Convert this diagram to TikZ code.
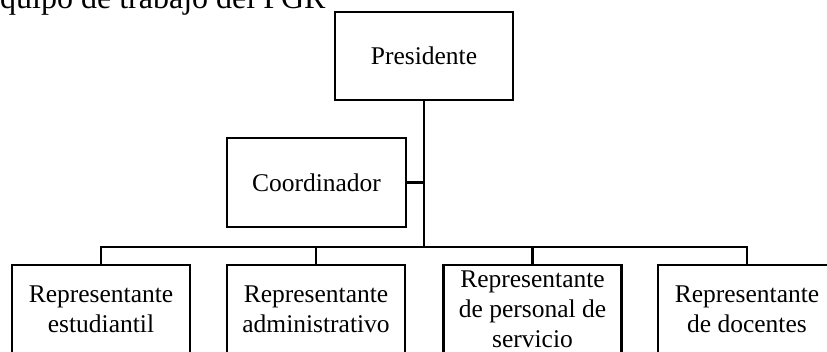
\documentclass[tikz,border=0pt]{standalone}
\usepackage{fontspec}
\setmainfont{Liberation Serif}
\begin{document}
\begin{tikzpicture}[x=1pt,y=-1pt,
  box/.style={draw=black,line width=2.2pt,rectangle,minimum width=178pt,minimum height=88pt,inner sep=0pt,align=center,font=\fontsize{25.5}{30}\selectfont},
  link/.style={draw=black,line width=2.2pt}]
\useasboundingbox (0,0) rectangle (827,351);
\clip (0,0) rectangle (827,351);
\fill[white] (0,0) rectangle (827,351);
\node[anchor=base west,inner sep=0pt,font=\fontsize{32}{36}\selectfont] (title) at (0,8) {quipo de trabajo del PGR};
\node[box] (pres) at (424,56) {Presidente};
\node[box,minimum width=179pt,minimum height=89pt] (coord) at (316.5,182.5) {Coordinador};
\node[box] (b1) at (101,309) {Representante\\estudiantil};
\node[box] (b2) at (316,309) {Representante\\administrativo};
\node[box] (b3) at (532.5,309) {Representante\\de personal de\\servicio};
\node[box] (b4) at (747,309) {Representante\\de docentes};
\coordinate (bus) at (424,247);
\draw[link] (pres.south) -- (bus);
\draw[link] (coord.east) -- (coord.east -| pres.south);
\draw[link] (b1.north) |- (bus) -| (b4.north);
\draw[link] (b2.north) -- (b2.north |- bus);
\draw[link] (b3.north) -- (b3.north |- bus);
\end{tikzpicture}
\end{document}
